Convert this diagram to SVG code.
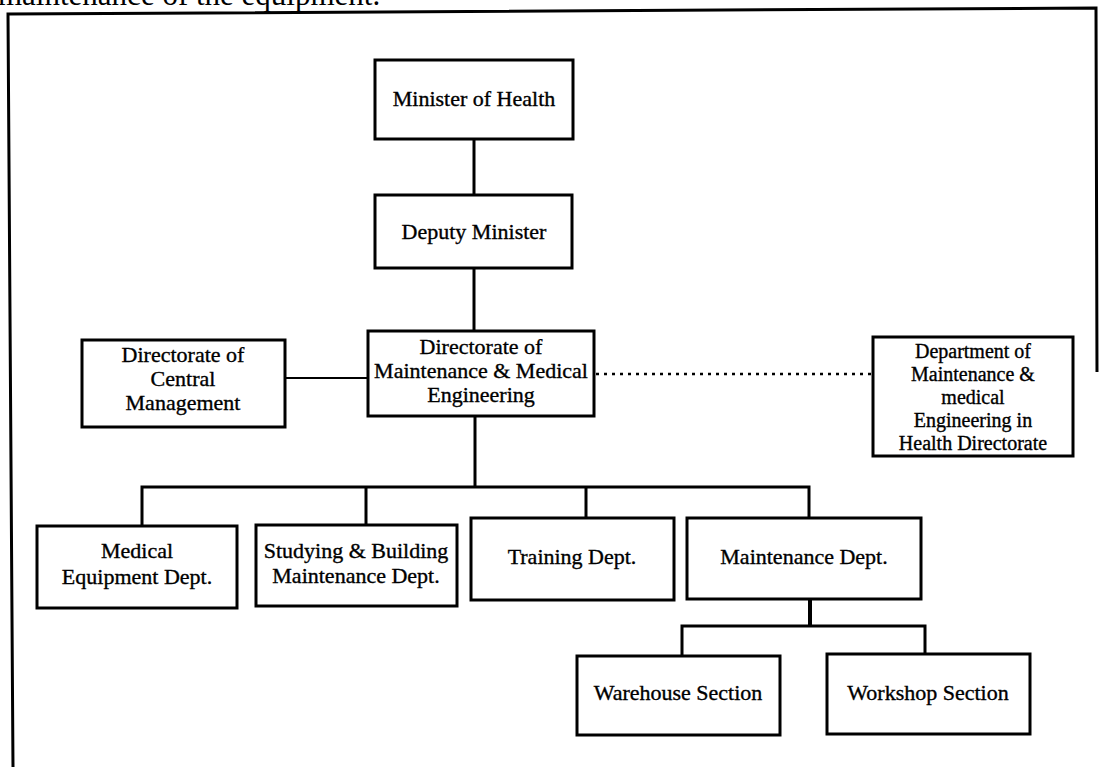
<svg xmlns="http://www.w3.org/2000/svg" width="1100" height="767" viewBox="0 0 1100 767">
<style>
.box{fill:#fff;stroke:#000;stroke-width:3}
.t{font-family:"Liberation Serif","Times New Roman",serif;font-size:22px;fill:#000;stroke:#000;stroke-width:0.35;text-anchor:middle}
.s{font-size:20px}
.c{fill:none;stroke:#000;stroke-width:3}
.d{fill:none;stroke:#000;stroke-width:2.5;stroke-dasharray:3 5}
.f{fill:none;stroke:#000;stroke-width:3}
</style>
<rect width="1100" height="767" fill="#fff"/>
<text x="-2" y="5" style="font-family:'Liberation Serif','Times New Roman',serif;font-size:31px;fill:#000">maintenance of the equipment.</text>
<g id="frame">
<polyline class="f" points="13,767 8,14 1096,8 1097,372"/>
</g>
<g id="connectors">
<line class="c" x1="474" y1="139" x2="474" y2="195" stroke-width="3.5"/>
<line class="c" x1="474" y1="268" x2="474" y2="331" stroke-width="3.5"/>
<line class="c" x1="285" y1="378" x2="368" y2="378" style="stroke-width:2"/>
<line class="d" x1="596" y1="374" x2="873" y2="374"/>
<line class="c" x1="475" y1="416" x2="475" y2="487"/>
<polyline class="c" points="142,526 142,487 809,487 809,518"/>
<line class="c" x1="366" y1="487" x2="366" y2="525"/>
<line class="c" x1="586" y1="487" x2="586" y2="518"/>
<line class="c" x1="810" y1="599" x2="810" y2="626" style="stroke-width:4"/>
<polyline class="c" points="682,656 682,626 925,626 925,654"/>
</g>
<g id="minister">
<rect class="box" x="375" y="60" width="198" height="79"/>
<text class="t" x="474" y="106">Minister of Health</text>
</g>
<g id="deputy">
<rect class="box" x="375" y="195" width="197" height="73"/>
<text class="t" x="474" y="239">Deputy Minister</text>
</g>
<g id="directorate-mme">
<rect class="box" x="368" y="331" width="226" height="85"/>
<text class="t" x="481" y="354">Directorate of</text>
<text class="t" x="481" y="378">Maintenance &amp; Medical</text>
<text class="t" x="481" y="402">Engineering</text>
</g>
<g id="directorate-central">
<rect class="box" x="82" y="340" width="203" height="87"/>
<text class="t" x="183" y="362">Directorate of</text>
<text class="t" x="183" y="386">Central</text>
<text class="t" x="183" y="410">Management</text>
</g>
<g id="department-health">
<rect class="box" x="873" y="337" width="200" height="119"/>
<text class="t s" x="973" y="358">Department of</text>
<text class="t s" x="973" y="381">Maintenance &amp;</text>
<text class="t s" x="973" y="404">medical</text>
<text class="t s" x="973" y="427">Engineering in</text>
<text class="t s" x="973" y="450">Health Directorate</text>
</g>
<g id="medical-equipment">
<rect class="box" x="37" y="526" width="200" height="82"/>
<text class="t" x="137" y="558">Medical</text>
<text class="t" x="137" y="584">Equipment Dept.</text>
</g>
<g id="studying-building">
<rect class="box" x="256" y="525" width="201" height="81"/>
<text class="t" x="356" y="558">Studying &amp; Building</text>
<text class="t" x="356" y="583">Maintenance Dept.</text>
</g>
<g id="training">
<rect class="box" x="471" y="518" width="203" height="82"/>
<text class="t" x="572" y="564">Training Dept.</text>
</g>
<g id="maintenance">
<rect class="box" x="687" y="518" width="234" height="81"/>
<text class="t" x="804" y="564">Maintenance Dept.</text>
</g>
<g id="warehouse">
<rect class="box" x="577" y="656" width="203" height="79"/>
<text class="t" x="678" y="700">Warehouse Section</text>
</g>
<g id="workshop">
<rect class="box" x="827" y="654" width="203" height="80"/>
<text class="t" x="928" y="700">Workshop Section</text>
</g>
</svg>
